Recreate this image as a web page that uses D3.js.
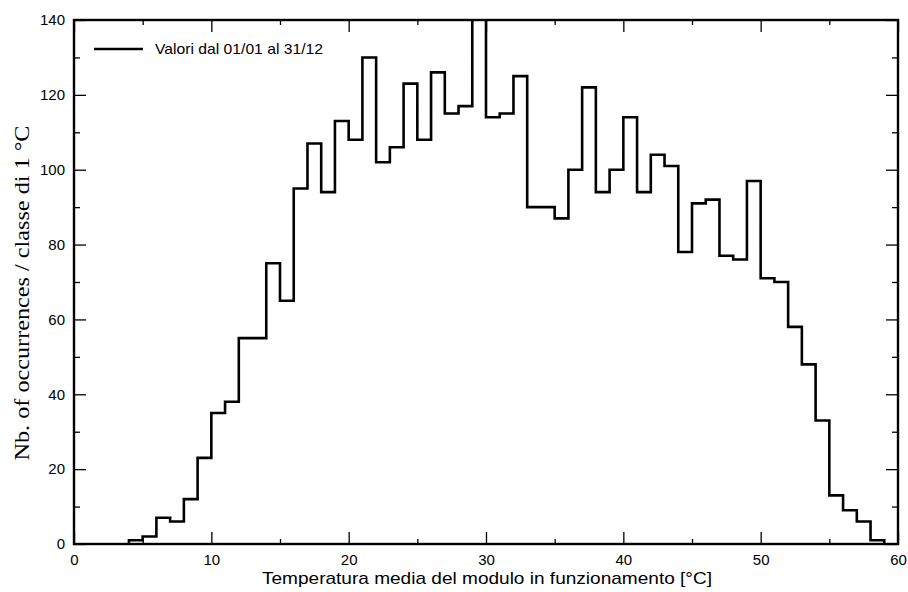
<!DOCTYPE html>
<html><head><meta charset="utf-8">
<script src="https://cdn.jsdelivr.net/npm/d3@7"></script>
<style>body{margin:0;background:#fff}svg{display:block}</style>
</head><body>
<svg id="c" width="908" height="592"></svg>
<script>
// Bin left edges (°C), class width 1 °C
const binStarts = [4,5,6,7,8,9,10,11,12,13,14,15,16,17,18,19,20,21,22,23,24,25,26,27,28,29,30,31,32,33,34,35,36,37,38,39,40,41,42,43,44,45,46,47,48,49,50,51,52,53,54,55,56,57,58];
const counts    = [1,2,7,6,12,23,35,38,55,55,75,65,95,107,94,113,108,130,102,106,123,108,126,115,117,141,114,115,125,90,90,87,100,122,94,100,114,94,104,101,78,91,92,77,76,97,71,70,58,48,33,13,9,6,1];
const xMajorTicks = [0,10,20,30,40,50,60];
const xMinorTicks = [5,15,25,35,45,55];
const yMajorTicks = [0,20,40,60,80,100,120,140];
const yMinorTicks = [10,30,50,70,90,110,130];
const legendLabel = "Valori dal 01/01 al 31/12";
const xTitle = "Temperatura media del modulo in funzionamento [°C]";
const yTitle = "Nb. of occurrences / classe di 1 °C";

const svg = d3.select("#c");
const L = 74, R = 898, T = 20, B = 544;
const x = d3.scaleLinear().domain([0,60]).range([L,R]);
const y = d3.scaleLinear().domain([0,140]).range([B,T]);

svg.append("defs").append("clipPath").attr("id","clip")
  .append("rect").attr("x",L).attr("y",T).attr("width",R-L).attr("height",B-T);

// step path
const pts = [];
binStarts.forEach((s,i)=>{
  pts.push([s, i===0?0:counts[i-1]]);
  pts.push([s, counts[i]]);
});
const lastEnd = binStarts[binStarts.length-1]+1;
pts.push([lastEnd, counts[counts.length-1]]);
pts.push([lastEnd, 0]);
svg.append("path")
  .attr("clip-path","url(#clip)")
  .attr("d", d3.line().x(d=>x(d[0])).y(d=>y(d[1]))(pts))
  .attr("fill","none").attr("stroke","#000").attr("stroke-width",2.6)
  .attr("stroke-linejoin","miter");

const font = "Liberation Sans, Arial, sans-serif";
function addAxis(gen, tr){
  const g = svg.append("g").attr("transform",tr).call(gen);
  g.select(".domain").remove();
  g.selectAll("line").attr("stroke","#000").attr("stroke-width",1.3);
  return g;
}
// bottom
const gb = addAxis(d3.axisBottom(x).tickValues(xMajorTicks).tickSize(-12).tickFormat(d3.format("d")), `translate(0,${B})`);
gb.selectAll("text").attr("font-family",font).attr("font-size",15).attr("fill","#000").attr("dy","0.72em").attr("y",10);
addAxis(d3.axisBottom(x).tickValues(xMinorTicks).tickSize(-5).tickFormat(""), `translate(0,${B})`);
// top
addAxis(d3.axisTop(x).tickValues(xMajorTicks).tickSize(-12).tickFormat(""), `translate(0,${T})`);
addAxis(d3.axisTop(x).tickValues(xMinorTicks).tickSize(-5).tickFormat(""), `translate(0,${T})`);
// left
const gl = addAxis(d3.axisLeft(y).tickValues(yMajorTicks).tickSize(-12).tickFormat(d3.format("d")), `translate(${L},0)`);
gl.selectAll("text").attr("font-family",font).attr("font-size",15).attr("fill","#000").attr("x",-9);
addAxis(d3.axisLeft(y).tickValues(yMinorTicks).tickSize(-6).tickFormat(""), `translate(${L},0)`);
// right
addAxis(d3.axisRight(y).tickValues(yMajorTicks).tickSize(-12).tickFormat(""), `translate(${R},0)`);
addAxis(d3.axisRight(y).tickValues(yMinorTicks).tickSize(-6).tickFormat(""), `translate(${R},0)`);

// frame
svg.append("rect").attr("x",L).attr("y",T).attr("width",R-L).attr("height",B-T)
  .attr("fill","none").attr("stroke","#000").attr("stroke-width",2.4);

// legend
svg.append("line").attr("x1",94).attr("x2",143).attr("y1",49).attr("y2",49)
  .attr("stroke","#000").attr("stroke-width",2.6);
svg.append("text").attr("x",155).attr("y",54).attr("font-family",font).attr("font-size",15)
  .attr("textLength",168).attr("lengthAdjust","spacingAndGlyphs")
  .attr("fill","#000").text(legendLabel);

// axis titles
svg.append("text").attr("x",487).attr("y",584).attr("text-anchor","middle")
  .attr("font-family",font).attr("font-size",17).attr("fill","#000")
  .attr("textLength",450).attr("lengthAdjust","spacingAndGlyphs").text(xTitle);
svg.append("text").attr("transform",`translate(29,293) rotate(-90)`).attr("text-anchor","middle")
  .attr("font-family","Liberation Serif, Times New Roman, serif").attr("font-size",20).attr("fill","#000")
  .attr("textLength",335).attr("lengthAdjust","spacingAndGlyphs").text(yTitle);
</script>
</body></html>
